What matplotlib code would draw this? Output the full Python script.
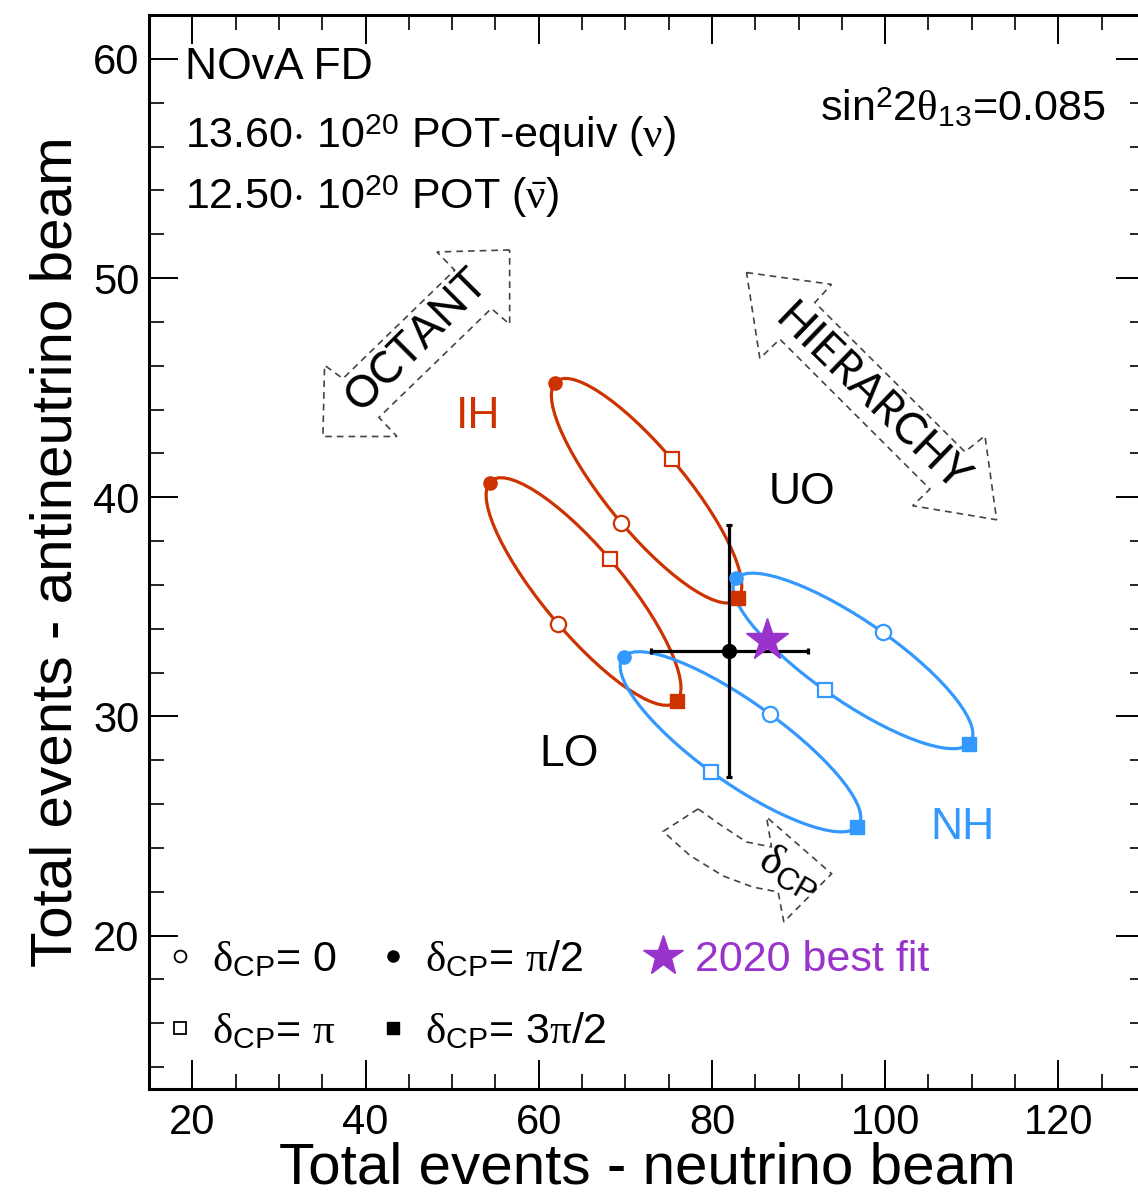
import numpy as np
import matplotlib
matplotlib.use("Agg")
import matplotlib.pyplot as plt
from matplotlib.path import Path
from matplotlib.patches import PathPatch, Polygon
from matplotlib.lines import Line2D
from matplotlib.ticker import MultipleLocator

plt.rcParams["font.family"] = ["Liberation Sans", "DejaVu Sans"]
plt.rcParams["mathtext.fontset"] = "custom"
plt.rcParams["mathtext.rm"] = "Liberation Serif"
plt.rcParams["mathtext.it"] = "Liberation Serif:italic"
plt.rcParams["mathtext.sf"] = "Liberation Sans"
plt.rcParams["mathtext.bf"] = "Liberation Sans:bold"

# ---------------------------------------------------------------------------
# Predicted total events (neutrino beam, antineutrino beam) at
# delta_CP = 0, pi/2, pi, 3pi/2 for each hierarchy / octant combination
# ---------------------------------------------------------------------------
dcp_values = ["0", "pi/2", "pi", "3pi/2"]

ih_uo_nu = [69.55, 61.85, 75.35, 83.05]
ih_uo_nubar = [38.82, 45.21, 41.74, 35.39]

ih_lo_nu = [62.23, 54.33, 68.20, 76.02]
ih_lo_nubar = [34.22, 40.67, 37.18, 30.72]

nh_uo_nu = [99.70, 82.83, 93.00, 109.70]
nh_uo_nubar = [33.84, 36.31, 31.20, 28.75]

nh_lo_nu = [86.68, 69.82, 79.94, 96.77]
nh_lo_nubar = [30.11, 32.73, 27.46, 24.95]

# Observed data and 2020 best fit
data_nu = 82
data_nubar = 33
bestfit_nu = 86.4
bestfit_nubar = 33.5

# Dashed guide arrows (outline vertices, in event units)
octant_arrow_x = [56.64, 48.25, 50.29, 37.39, 35.27, 35.08, 43.63, 41.55, 54.53, 56.64]
octant_arrow_y = [51.28, 51.19, 50.36, 45.41, 46.02, 42.77, 42.77, 43.64, 48.61, 47.89]

hier_arrow_x = [83.99, 93.81, 91.88, 109.21, 111.52, 112.87, 103.17, 105.17, 87.84, 85.53]
hier_arrow_y = [50.25, 49.71, 48.88, 42.07, 42.80, 38.97, 39.61, 40.37, 47.21, 46.33]

dcp_arrow_x = [78.40, 74.36, 77.44, 81.29, 84.75, 87.64, 88.30, 93.81, 86.30, 86.88, 83.99, 81.10]
dcp_arrow_y = [25.78, 24.75, 23.66, 22.72, 22.21, 21.99, 20.62, 22.82, 25.41, 24.04, 24.27, 25.02]

x_ticks = [20, 40, 60, 80, 100, 120]
y_ticks = [20, 30, 40, 50, 60]

RED = "#cc3300"
BLUE = "#3399ff"
PURPLE = "#9933cc"
GREY = "#444444"


def cp_ellipse(xs, ys):
    """Closed curve through the four delta_CP points (quarter arcs as cubic Beziers)."""
    P = np.column_stack([xs, ys]).astype(float)
    c = P.mean(axis=0)
    k = 4.0 / 3.0 * np.tan(np.pi / 8)
    verts = [P[0]]
    codes = [Path.MOVETO]
    for i in range(4):
        p0, p1, p2 = P[i], P[(i + 1) % 4], P[(i + 2) % 4]
        verts += [p0 + k * (p1 - c), p1 - k * (p2 - c), p1]
        codes += [Path.CURVE4] * 3
    return Path(verts, codes)


fig = plt.figure(figsize=(11.38, 11.97), dpi=100)
ax = fig.add_axes([149 / 1138, 108 / 1197, 996 / 1138, 1074 / 1197])

ax.set_xlim(15, 130)
ax.set_ylim(13, 62)

curves = [
    (ih_uo_nu, ih_uo_nubar, RED),
    (ih_lo_nu, ih_lo_nubar, RED),
    (nh_uo_nu, nh_uo_nubar, BLUE),
    (nh_lo_nu, nh_lo_nubar, BLUE),
]

for xs, ys, col in curves:
    ax.add_patch(PathPatch(cp_ellipse(xs, ys), fill=False, edgecolor=col,
                           lw=2.3, zorder=2))

# data point with statistical errors
ax.errorbar(data_nu, data_nubar, xerr=np.sqrt(data_nu), yerr=np.sqrt(data_nubar),
            fmt="o", color="black", ms=10, lw=2.3, capsize=2.5, capthick=2.3,
            zorder=3)

for xs, ys, col in curves:
    ax.plot(xs[0], ys[0], ls="none", marker="o", mfc="white", mec=col, ms=11,
            mew=1.6, zorder=4)
    ax.plot(xs[1], ys[1], ls="none", marker="o", color=col, ms=9.5, zorder=4)
    ax.plot(xs[2], ys[2], ls="none", marker="s", mfc="white", mec=col, ms=10.5,
            mew=1.6, zorder=4)
    ax.plot(xs[3], ys[3], ls="none", marker="s", color=col, ms=10.5, zorder=4)

ax.plot(bestfit_nu, bestfit_nubar, ls="none", marker="*", color=PURPLE, ms=32,
        zorder=6)

# dashed guide arrows
for ax_x, ax_y in [(octant_arrow_x, octant_arrow_y),
                   (hier_arrow_x, hier_arrow_y),
                   (dcp_arrow_x, dcp_arrow_y)]:
    ax.add_patch(Polygon(np.column_stack([ax_x, ax_y]), closed=True, fill=False,
                         edgecolor=GREY, lw=1.2, ls=(0, (4, 3)), zorder=1))

ax.text(45.9, 47.2, "OCTANT", rotation=45, ha="center", va="center",
        fontsize=32, family=["Lato", "DejaVu Sans"], color="black",
        rotation_mode="anchor")
ax.text(98.4, 44.5, "HIERARCHY", rotation=-44, ha="center", va="center",
        fontsize=32, family=["Lato", "DejaVu Sans"], color="black",
        rotation_mode="anchor")
ax.text(89.0, 22.9, r"$\mathrm{\delta}_{\mathsf{CP}}$", rotation=-30,
        ha="center", va="center", fontsize=32, rotation_mode="anchor")

# region labels
ax.text(52.95, 43.70, "IH", color=RED, fontsize=32, ha="center", va="center")
ax.text(108.98, 24.92, "NH", color=BLUE, fontsize=32, ha="center", va="center")
ax.text(90.38, 40.23, "UO", color="black", fontsize=32, ha="center", va="center")
ax.text(63.46, 28.25, "LO", color="black", fontsize=32, ha="center", va="center")

# exposure and parameters
ax.text(19.1, 59.09, "NOvA FD", fontsize=32, ha="left", va="baseline")
ax.text(19.1, 55.94, "13.60$\\cdot$ 10$^{\\mathsf{20}}$ POT-equiv ($\\mathrm{\\nu}$)",
        fontsize=31, ha="left", va="baseline")
ax.text(19.1, 53.13, "12.50$\\cdot$ 10$^{\\mathsf{20}}$ POT ($\\bar{\\mathrm{\\nu}}$)",
        fontsize=31, ha="left", va="baseline")
ax.text(125.4, 57.15, "sin$^{\\mathsf{2}}$2$\\mathrm{\\theta}_{\\mathsf{13}}$=0.085",
        fontsize=31, ha="right", va="baseline")

# legend
handles = [
    Line2D([], [], ls="none", marker="o", mfc="white", mec="black", ms=8.5, mew=1.3),
    Line2D([], [], ls="none", marker="s", mfc="white", mec="black", ms=8.5, mew=1.3),
    Line2D([], [], ls="none", marker="o", color="black", ms=8),
    Line2D([], [], ls="none", marker="s", color="black", ms=8.5),
    Line2D([], [], ls="none", marker="*", color=PURPLE, ms=30),
]
labels = [
    r"$\mathrm{\delta}_{\mathsf{CP}}$= 0",
    r"$\mathrm{\delta}_{\mathsf{CP}}$= $\mathrm{\pi}$",
    r"$\mathrm{\delta}_{\mathsf{CP}}$= $\mathrm{\pi}$/2",
    r"$\mathrm{\delta}_{\mathsf{CP}}$= 3$\mathrm{\pi}$/2",
    "2020 best fit",
]
leg = ax.legend(handles, labels, ncol=3, loc="upper left",
                bbox_to_anchor=(0.018, 0.139), frameon=False, fontsize=31,
                handlelength=0.6, handletextpad=0.45, columnspacing=1.0,
                labelspacing=0.73, borderpad=0, borderaxespad=0)
leg.get_texts()[4].set_color(PURPLE)

# axes styling
ax.set_xticks(x_ticks)
ax.set_yticks(y_ticks)
ax.xaxis.set_minor_locator(MultipleLocator(5))
ax.yaxis.set_minor_locator(MultipleLocator(2))
ax.tick_params(which="both", direction="in", top=True, right=True)
ax.tick_params(which="major", length=21, width=1.4, labelsize=30)
ax.tick_params(which="minor", length=11, width=1.2)
ax.tick_params(axis="x", which="major", pad=10)
ax.tick_params(axis="y", which="major", pad=7)
for sp in ax.spines.values():
    sp.set_linewidth(2.2)

ax.set_xlabel("Total events - neutrino beam", fontsize=42, labelpad=-1)
ax.set_ylabel("Total events - antineutrino beam", fontsize=42, labelpad=7)

fig.savefig("out.png", dpi=100)
